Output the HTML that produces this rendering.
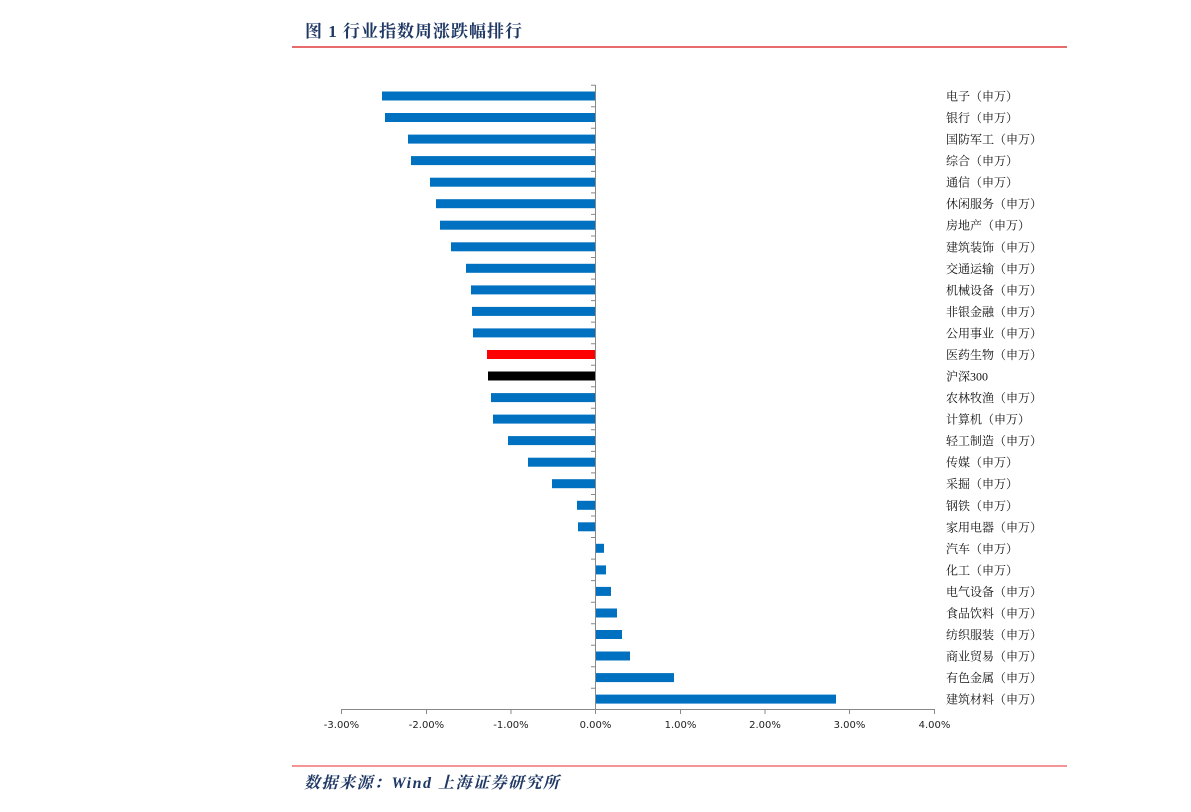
<!DOCTYPE html>
<html><head><meta charset="utf-8"><style>
body{margin:0;background:#fff;}
svg{display:block}
</style></head><body>
<svg width="1191" height="812" xmlns="http://www.w3.org/2000/svg">
<text x="305" y="37" font-family="'Liberation Serif','Noto Serif CJK SC',serif" font-size="17" font-weight="bold" fill="#1f3864" letter-spacing="1">图 1 行业指数周涨跌幅排行</text>
<line x1="292" y1="47" x2="1067" y2="47" stroke="#e03a3a" stroke-width="1.5"/>
<g fill="#0070c0">
<rect x="382" y="91.5" width="213.5" height="9"/>
<rect x="385" y="113" width="210.5" height="9"/>
<rect x="408" y="134.6" width="187.5" height="9"/>
<rect x="411" y="156.1" width="184.5" height="9"/>
<rect x="430" y="177.7" width="165.5" height="9"/>
<rect x="436" y="199.2" width="159.5" height="9"/>
<rect x="440" y="220.7" width="155.5" height="9"/>
<rect x="451" y="242.3" width="144.5" height="9"/>
<rect x="466" y="263.8" width="129.5" height="9"/>
<rect x="471" y="285.4" width="124.5" height="9"/>
<rect x="472" y="306.9" width="123.5" height="9"/>
<rect x="473" y="328.4" width="122.5" height="9"/>
<rect x="487" y="350" width="108.5" height="9" fill="#ff0000"/>
<rect x="488" y="371.5" width="107.5" height="9" fill="#000"/>
<rect x="491" y="393.1" width="104.5" height="9"/>
<rect x="493" y="414.6" width="102.5" height="9"/>
<rect x="508" y="436.1" width="87.5" height="9"/>
<rect x="528" y="457.7" width="67.5" height="9"/>
<rect x="552" y="479.2" width="43.5" height="9"/>
<rect x="577" y="500.8" width="18.5" height="9"/>
<rect x="578" y="522.3" width="17.5" height="9"/>
<rect x="595.5" y="543.8" width="8.5" height="9"/>
<rect x="595.5" y="565.4" width="10.5" height="9"/>
<rect x="595.5" y="586.9" width="15.5" height="9"/>
<rect x="595.5" y="608.5" width="21.5" height="9"/>
<rect x="595.5" y="630" width="26.5" height="9"/>
<rect x="595.5" y="651.5" width="34.5" height="9"/>
<rect x="595.5" y="673.1" width="78.5" height="9"/>
<rect x="595.5" y="694.6" width="240.5" height="9"/>
</g>
<g stroke="#888" stroke-width="1">
<line x1="595.5" y1="85" x2="595.5" y2="710"/>
<line x1="341" y1="709.5" x2="935" y2="709.5"/>
<path d="M591 85.2h4.5M591 106.7h4.5M591 128.3h4.5M591 149.8h4.5M591 171.4h4.5M591 192.9h4.5M591 214.4h4.5M591 236h4.5M591 257.5h4.5M591 279.1h4.5M591 300.6h4.5M591 322.1h4.5M591 343.7h4.5M591 365.2h4.5M591 386.8h4.5M591 408.3h4.5M591 429.8h4.5M591 451.4h4.5M591 472.9h4.5M591 494.5h4.5M591 516h4.5M591 537.5h4.5M591 559.1h4.5M591 580.6h4.5M591 602.2h4.5M591 623.7h4.5M591 645.2h4.5M591 666.8h4.5M591 688.3h4.5"/>
<path d="M341.5 709v5M426.5 709v5M511 709v5M595.5 709v5M680.5 709v5M765 709v5M849.5 709v5M934.5 709v5"/>
</g>
<g font-family="'DejaVu Sans','Liberation Sans',sans-serif" font-size="10" fill="#222" text-anchor="middle">
<text x="341.5" y="728">-3.00%</text><text x="426.5" y="728">-2.00%</text><text x="511" y="728">-1.00%</text><text x="595.5" y="728">0.00%</text><text x="680.5" y="728">1.00%</text><text x="765" y="728">2.00%</text><text x="849.5" y="728">3.00%</text><text x="934.5" y="728">4.00%</text>
</g>
<g font-family="'Liberation Serif','Noto Serif CJK SC',serif" font-size="12" fill="#111">
<text x="946" y="100.5">电子（申万）</text>
<text x="946" y="122">银行（申万）</text>
<text x="946" y="143.6">国防军工（申万）</text>
<text x="946" y="165.1">综合（申万）</text>
<text x="946" y="186.7">通信（申万）</text>
<text x="946" y="208.2">休闲服务（申万）</text>
<text x="946" y="229.7">房地产（申万）</text>
<text x="946" y="251.3">建筑装饰（申万）</text>
<text x="946" y="272.8">交通运输（申万）</text>
<text x="946" y="294.4">机械设备（申万）</text>
<text x="946" y="315.9">非银金融（申万）</text>
<text x="946" y="337.4">公用事业（申万）</text>
<text x="946" y="359">医药生物（申万）</text>
<text x="946" y="380.5">沪深300</text>
<text x="946" y="402.1">农林牧渔（申万）</text>
<text x="946" y="423.6">计算机（申万）</text>
<text x="946" y="445.1">轻工制造（申万）</text>
<text x="946" y="466.7">传媒（申万）</text>
<text x="946" y="488.2">采掘（申万）</text>
<text x="946" y="509.8">钢铁（申万）</text>
<text x="946" y="531.3">家用电器（申万）</text>
<text x="946" y="552.8">汽车（申万）</text>
<text x="946" y="574.4">化工（申万）</text>
<text x="946" y="595.9">电气设备（申万）</text>
<text x="946" y="617.5">食品饮料（申万）</text>
<text x="946" y="639">纺织服装（申万）</text>
<text x="946" y="660.5">商业贸易（申万）</text>
<text x="946" y="682.1">有色金属（申万）</text>
<text x="946" y="703.6">建筑材料（申万）</text>
</g>
<line x1="292" y1="766" x2="1067" y2="766" stroke="#f07070" stroke-width="1.5"/>
<text x="304" y="788" font-family="'Liberation Serif','Noto Serif CJK SC',serif" font-size="16" font-style="italic" font-weight="bold" fill="#1f3864" letter-spacing="1.5">数据来源：Wind  上海证券研究所</text>
</svg>
</body></html>
